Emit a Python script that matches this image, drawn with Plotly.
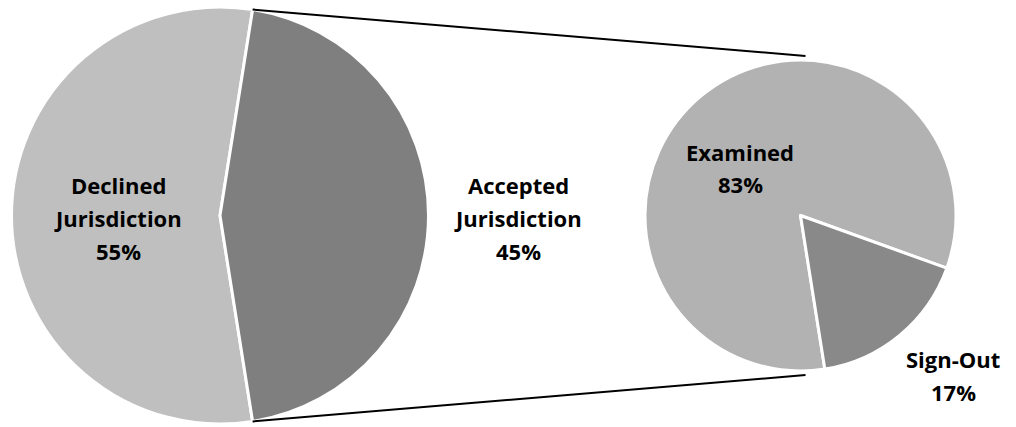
import math
import plotly.graph_objects as go

# Jurisdiction split (primary pie)
main_labels = ["Declined Jurisdiction", "Accepted Jurisdiction"]
main_values = [55, 45]
main_colors = ["#bfbfbf", "#7f7f7f"]

# Breakdown of accepted cases (secondary pie)
sub_labels = ["Examined", "Sign-Out"]
sub_values = [83, 17]
sub_colors = ["#b2b2b2", "#898989"]

# Label line breaks
label_lines = {
    "Declined Jurisdiction": ["Declined", "Jurisdiction"],
    "Accepted Jurisdiction": ["Accepted", "Jurisdiction"],
    "Examined": ["Examined"],
    "Sign-Out": ["Sign-Out"],
}

W, H = 1016, 427

# Pie geometry in pixels (center x, center y from top, radius)
main_cx, main_cy, main_r = 220.0, 215.5, 208.5
sub_cx, sub_cy, sub_r = 800.5, 215.5, 155.5

# Compass angle (clockwise from 12 o'clock) where the first slice begins
main_rotation = 171
sub_rotation = 171


def domain(cx, cy, r):
    yb = H - cy
    return dict(x=[(cx - r) / W, (cx + r) / W], y=[(yb - r) / H, (yb + r) / H])


fig = go.Figure()
fig.add_trace(go.Pie(
    labels=main_labels, values=main_values, sort=False,
    direction="counterclockwise", rotation=main_rotation,
    marker=dict(colors=main_colors, line=dict(color="white", width=3)),
    textinfo="none", hoverinfo="label+percent",
    domain=domain(main_cx, main_cy, main_r), showlegend=False,
))
fig.add_trace(go.Pie(
    labels=sub_labels, values=sub_values, sort=False,
    direction="counterclockwise", rotation=sub_rotation,
    marker=dict(colors=sub_colors, line=dict(color="white", width=3)),
    textinfo="none", hoverinfo="label+percent",
    domain=domain(sub_cx, sub_cy, sub_r), showlegend=False,
))

# Connector lines from the edges of the accepted slice to the secondary pie
half = main_values[1] / sum(main_values) * 180.0
shapes = []
for sign in (1, -1):
    a = math.radians(half) * sign
    x0 = main_cx + main_r * math.cos(a)
    y0 = main_cy - main_r * math.sin(a)
    x1 = sub_cx + 5
    y1 = sub_cy - sign * (sub_r + 4)
    shapes.append(dict(
        type="line", xref="paper", yref="paper",
        x0=x0 / W, y0=1 - y0 / H, x1=x1 / W, y1=1 - y1 / H,
        line=dict(color="black", width=2),
    ))

# Label anchor positions (pixel centre of each text block)
label_pos = {
    "Declined Jurisdiction": (118, 218),
    "Accepted Jurisdiction": (518, 218),
    "Examined": (740, 168),
    "Sign-Out": (953, 375),
}
line_gap = 33

annotations = []
for labels, values in ((main_labels, main_values), (sub_labels, sub_values)):
    total = sum(values)
    for lab, val in zip(labels, values):
        lines = label_lines[lab] + [f"{round(100 * val / total)}%"]
        cx, cy = label_pos[lab]
        n = len(lines)
        for i, txt in enumerate(lines):
            y = cy + (i - (n - 1) / 2) * line_gap
            annotations.append(dict(
                x=cx / W, y=1 - y / H, xref="paper", yref="paper",
                text=f"<b>{txt}</b>", showarrow=False,
                xanchor="center", yanchor="middle",
                font=dict(family="Open Sans", size=22, color="black"),
            ))

fig.update_layout(
    width=W, height=H,
    margin=dict(l=0, r=0, t=0, b=0),
    paper_bgcolor="white", plot_bgcolor="white",
    shapes=shapes, annotations=annotations,
)

fig.write_html("out.html")
